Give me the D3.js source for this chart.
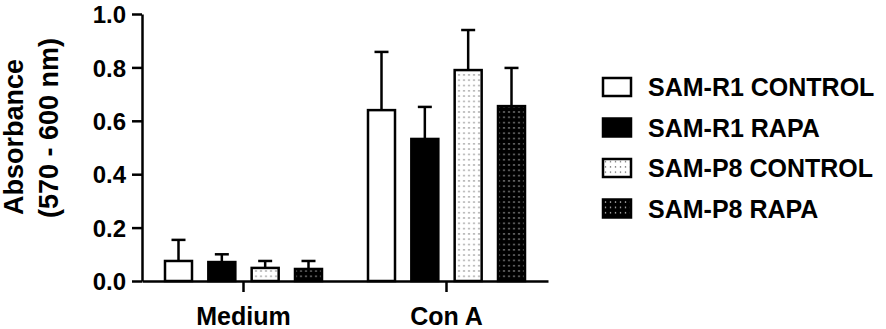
<!DOCTYPE html>
<html>
<head>
<meta charset="utf-8">
<script src="https://cdn.jsdelivr.net/npm/d3@7"></script>
<style>
  body { margin: 0; background: #fff; }
  svg text { font-family: "Liberation Sans", Arial, sans-serif; font-weight: bold; fill: #000; }
</style>
</head>
<body>
<svg id="chart" width="886" height="329"></svg>
<script>
// data
var groups = ["Medium", "Con A"];
var series = ["SAM-R1 CONTROL", "SAM-R1 RAPA", "SAM-P8 CONTROL", "SAM-P8 RAPA"];
var meanMedium = [0.075, 0.071, 0.049, 0.045];
var errMedium = [0.079, 0.029, 0.026, 0.030];
var meanConA = [0.640, 0.532, 0.790, 0.655];
var errConA = [0.218, 0.120, 0.150, 0.143];
var yTicks = [0.0, 0.2, 0.4, 0.6, 0.8, 1.0];

var means = [meanMedium, meanConA];
var errs = [errMedium, errConA];

var svg = d3.select("#chart");

var margin = {top: 14, left: 142, bottom: 48, right: 338};
var width = 886 - margin.left - margin.right,
    height = 329 - margin.top - margin.bottom;

var g = svg.append("g").attr("transform", "translate(" + margin.left + "," + margin.top + ")");

// patterns for the SAM-P8 bars
var defs = svg.append("defs");
function dotPattern(id, bg, dot) {
  var p = defs.append("pattern")
    .attr("id", id)
    .attr("patternUnits", "userSpaceOnUse")
    .attr("width", 5)
    .attr("height", 5.3);
  p.append("rect").attr("width", 5).attr("height", 5.3).attr("fill", bg);
  p.append("circle").attr("cx", 2.5).attr("cy", 2.6).attr("r", 0.75).attr("fill", dot);
}
dotPattern("dotsLight", "#fff", "#777");
dotPattern("dotsDark", "#000", "#bbb");

var fills = ["#fff", "#000", "url(#dotsLight)", "url(#dotsDark)"];

var y = d3.scaleLinear().domain([0, 1]).range([height, 0]);
var x0 = d3.scaleBand().domain(groups).range([0, width]);
var x1 = d3.scalePoint().domain(series).range([-65, 65]);
var barW = 27;

// bars
var grp = g.selectAll(".grp")
  .data(groups)
  .enter().append("g")
  .attr("class", "grp")
  .attr("transform", function(d) { return "translate(" + (x0(d) + x0.bandwidth() / 2) + ",0)"; });

grp.each(function(gName, gi) {
  var sel = d3.select(this);
  var rows = series.map(function(s, si) { return {s: s, i: si, v: means[gi][si], e: errs[gi][si]}; });

  // error bars (upper only)
  sel.selectAll(".err")
    .data(rows)
    .enter().append("line")
    .attr("x1", function(d) { return x1(d.s); })
    .attr("x2", function(d) { return x1(d.s); })
    .attr("y1", function(d) { return y(d.v); })
    .attr("y2", function(d) { return y(d.v + d.e); })
    .style("stroke", "#000")
    .style("stroke-width", 2.5);

  sel.selectAll(".cap")
    .data(rows)
    .enter().append("line")
    .attr("x1", function(d) { return x1(d.s) - 7; })
    .attr("x2", function(d) { return x1(d.s) + 7; })
    .attr("y1", function(d) { return y(d.v + d.e); })
    .attr("y2", function(d) { return y(d.v + d.e); })
    .style("stroke", "#000")
    .style("stroke-width", 2.5);

  sel.selectAll("rect")
    .data(rows)
    .enter().append("rect")
    .attr("x", function(d) { return x1(d.s) - barW / 2; })
    .attr("y", function(d) { return y(d.v); })
    .attr("width", barW)
    .attr("height", function(d) { return y(0) - y(d.v); })
    .style("fill", function(d) { return fills[d.i]; })
    .style("stroke", "#000")
    .style("stroke-width", 2.5);
});

// y axis
var yAxis = g.append("g")
  .call(d3.axisLeft(y).tickValues(yTicks).tickFormat(d3.format(".1f")).tickSize(10).tickPadding(6).tickSizeOuter(0));
yAxis.selectAll("text").style("font-size", "24px").attr("dy", "0.36em");

// x axis
var xAxis = g.append("g")
  .attr("transform", "translate(0," + height + ")")
  .call(d3.axisBottom(x0).tickSize(11).tickPadding(15).tickSizeOuter(0));
xAxis.selectAll("text").style("font-size", "25px");

g.selectAll(".domain, .tick line").style("stroke", "#000").style("stroke-width", 2.5);

// y axis title
svg.append("text")
  .attr("transform", "translate(23,137) rotate(-90)")
  .attr("text-anchor", "middle")
  .style("font-size", "27px")
  .text("Absorbance");

svg.append("text")
  .attr("transform", "translate(58,128) rotate(-90)")
  .attr("text-anchor", "middle")
  .style("font-size", "27px")
  .text("(570 - 600 nm)");

// legend
var legend = svg.append("g").attr("transform", "translate(603,78)");
var item = legend.selectAll("g")
  .data(series)
  .enter().append("g")
  .attr("transform", function(d, i) { return "translate(0," + (i * 40.5) + ")"; });

item.append("rect")
  .attr("width", 28)
  .attr("height", 18)
  .style("fill", function(d, i) { return fills[i]; })
  .style("stroke", "#000")
  .style("stroke-width", 2.5);

item.append("text")
  .attr("x", 45)
  .attr("y", 18)
  .style("font-size", "25px")
  .text(function(d) { return d; });
</script>
</body>
</html>
